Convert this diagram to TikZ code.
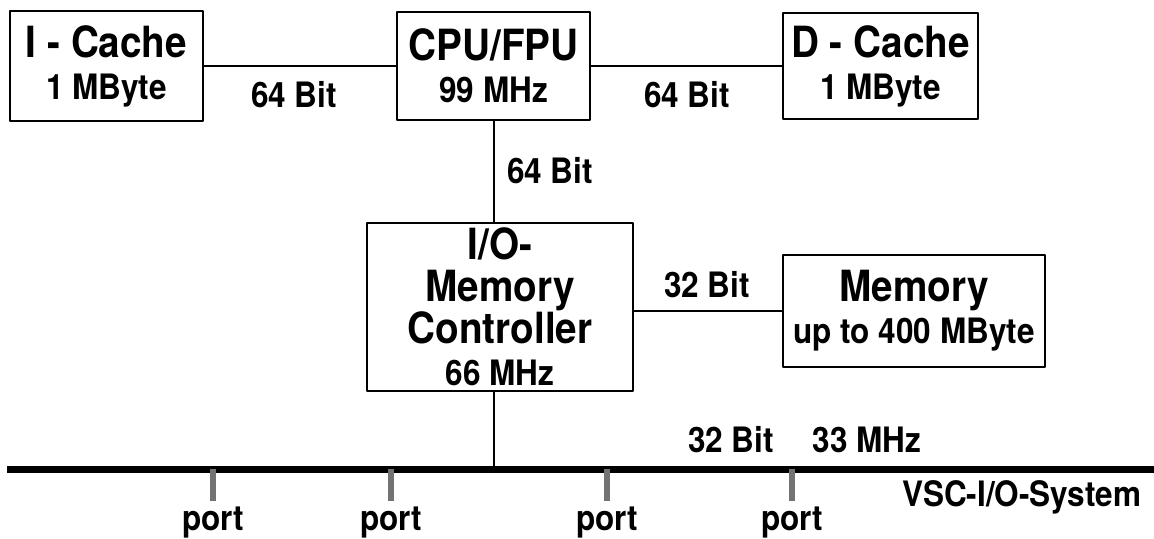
\documentclass[tikz,border=0pt]{standalone}
\usepackage{fontspec}
\setmainfont{TeX Gyre Heros}[FakeStretch=0.9]
\usepackage{tikz}
\newcommand\headsize{\fontsize{21.5}{21}\selectfont\bfseries}
\newcommand\subsize{\fontsize{17.5}{21}\selectfont\bfseries}
\tikzset{
  every picture/.style={line join=round, line cap=butt},
  unit/.style={draw, line width=1.3pt, inner sep=0pt, align=center, font=\subsize},
  wire/.style={line width=1pt},
  bus/.style={line width=3.5pt},
  stub/.style={line width=3.2pt, black!55},
  tag/.style={inner sep=0pt, anchor=base, font=\subsize},
}

\begin{document}
\begin{tikzpicture}[x=0.5pt,y=-0.5pt]
\useasboundingbox (0,0) rectangle (1154,538);
\node[unit, minimum width=96.5pt, minimum height=55pt] (icache) at (106.5,66) {{\headsize I - Cache}\\1 MByte};
\node[unit, minimum width=96.5pt, minimum height=54pt] (cpu) at (493.5,66) {{\headsize CPU/FPU}\\99 MHz};
\node[unit, minimum width=97.5pt, minimum height=53pt] (dcache) at (880.5,66) {{\headsize D - Cache}\\1 MByte};
\node[unit, minimum width=133pt, minimum height=84pt] (ioc) at (500,307) {{\headsize I/O-}\\{\headsize Memory}\\{\headsize Controller}\\66 MHz};
\node[unit, minimum width=131pt, minimum height=56pt] (mem) at (914,311) {{\headsize Memory}\\up to 400 MByte};

\coordinate (busL) at (7,469);
\coordinate (busR) at (1154,469);

\draw[wire] (icache) -- (cpu);
\draw[wire] (cpu) -- (dcache);
\draw[wire] (cpu.south) -- (cpu.south |- ioc.north);
\draw[wire] (mem.west -| ioc.east) -- (mem.west);
\draw[wire] (ioc.south -| cpu.south) -- (cpu.south |- busL);
\draw[bus] (busL) -- (busR);

\node[tag] (w1) at (294,107) {64 Bit};
\node[tag] (w2) at (687,107) {64 Bit};
\node[tag] (w3) at (550,183) {64 Bit};
\node[tag] (w4) at (707,297) {32 Bit};
\node[tag] (w5) at (731,452) {32 Bit};
\node[tag] (clk) at (867,452) {33 MHz};
\node[tag] (vsc) at (1022,506) {VSC-I/O-System};

\foreach \px [count=\i] in {213,391,607,792}{
  \coordinate (tap\i) at (\px,469);
  \node[tag] (port\i) at (\px,530) {port};
  \draw[stub, shorten >=2.5pt] (tap\i) -- (tap\i |- port\i.north);
}
\end{tikzpicture}
\end{document}
